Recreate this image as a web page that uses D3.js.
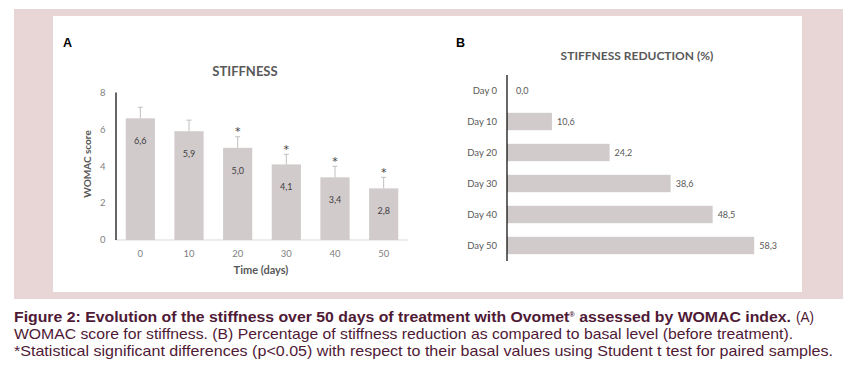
<!DOCTYPE html>
<html><head><meta charset="utf-8">
<script src="https://cdn.jsdelivr.net/npm/d3@7"></script>
<style>
html,body{margin:0;padding:0;background:#fff;}
svg{display:block;}
</style></head>
<body>
<svg id="chart" width="849" height="381"></svg>
<script>
// ---- data ----
const daysA = ["0", "10", "20", "30", "40", "50"];
const womacScores = [6.6, 5.9, 5.0, 4.1, 3.4, 2.8];
const womacErrors = [0.6, 0.6, 0.6, 0.55, 0.6, 0.6];
const significant = [false, false, true, true, true, true];
const yTicksA = [0, 2, 4, 6, 8];
const daysB = ["Day 0", "Day 10", "Day 20", "Day 30", "Day 40", "Day 50"];
const reductionPct = [0.0, 10.6, 24.2, 38.6, 48.5, 58.3];
const captionLines = [
  "WOMAC score for stiffness. (B) Percentage of stiffness reduction as compared to basal level (before treatment).",
  "*Statistical significant differences (p<0.05) with respect to their basal values using Student t test for paired samples."
];

const fmt = v => d3.format(".1f")(v).replace(".", ",");
const svg = d3.select("#chart");
const chartFont = "Lato, 'Open Sans', sans-serif";
const barColor = "#d1cbcc";

// frame
svg.append("rect").attr("x", 14).attr("y", 9).attr("width", 829).attr("height", 290).attr("fill", "#e8d5d5");
svg.append("rect").attr("x", 53).attr("y", 16).attr("width", 749).attr("height", 276).attr("fill", "#ffffff");

// ---- Panel A ----
const gA = svg.append("g");
gA.append("text").attr("x", 63).attr("y", 46.5).text("A")
  .attr("font-family", "'Liberation Sans', Arial, sans-serif").attr("font-weight", "bold").attr("font-size", 12.5).attr("fill", "#000");
gA.append("text").attr("x", 245).attr("y", 76).attr("text-anchor", "middle").text("STIFFNESS")
  .attr("font-family", chartFont).attr("font-weight", "bold").attr("font-size", 13).attr("fill", "#595959");

const xA = d3.scaleBand().domain(daysA).range([116, 408]).paddingInner(0.4).paddingOuter(0.2);
const yA = d3.scaleLinear().domain([0, 8]).range([240, 92.5]);

// y tick labels
gA.selectAll(".ytick").data(yTicksA).join("text")
  .attr("x", 105.5).attr("y", d => yA(d) + 3.3).attr("text-anchor", "end").text(d => d)
  .attr("font-family", chartFont).attr("font-size", 9.5).attr("fill", "#7f7f7f");
// x axis line
gA.append("line").attr("x1", 116).attr("x2", 408).attr("y1", yA(0)).attr("y2", yA(0)).attr("stroke", "#d9d9d9").attr("stroke-width", 1);
// bars
gA.selectAll(".bar").data(womacScores).join("rect")
  .attr("x", (d, i) => xA(daysA[i])).attr("width", xA.bandwidth())
  .attr("y", d => yA(d)).attr("height", d => yA(0) - yA(d)).attr("fill", barColor);
// error bars
womacScores.forEach((v, i) => {
  const cx = xA(daysA[i]) + xA.bandwidth() / 2;
  const top = yA(v + womacErrors[i]);
  gA.append("line").attr("x1", cx).attr("x2", cx).attr("y1", yA(v)).attr("y2", top).attr("stroke", "#bfbfbf").attr("stroke-width", 1);
  gA.append("line").attr("x1", cx - 2.5).attr("x2", cx + 2.5).attr("y1", top).attr("y2", top).attr("stroke", "#bfbfbf").attr("stroke-width", 1);
  if (significant[i]) {
    gA.append("text").attr("x", cx).attr("y", top - 1.5).attr("text-anchor", "middle").text("*")
      .attr("font-family", "'DejaVu Sans', sans-serif").attr("font-size", 11).attr("fill", "#404040");
  }
  gA.append("text").attr("x", cx).attr("y", yA(v) + 26).attr("text-anchor", "middle").text(fmt(v))
    .attr("font-family", chartFont).attr("font-size", 9).attr("fill", "#404040");
});
// y axis line
gA.append("line").attr("x1", 116).attr("x2", 116).attr("y1", yA(8)).attr("y2", yA(0)).attr("stroke", "#000").attr("stroke-width", 1.2);
// x tick labels
gA.selectAll(".xtick").data(daysA).join("text")
  .attr("x", d => xA(d) + xA.bandwidth() / 2).attr("y", 257).attr("text-anchor", "middle").text(d => d)
  .attr("font-family", chartFont).attr("font-size", 9.5).attr("fill", "#7f7f7f");
gA.append("text").attr("x", 261).attr("y", 274).attr("text-anchor", "middle").text("Time (days)")
  .attr("font-family", chartFont).attr("font-weight", "bold").attr("font-size", 11).attr("fill", "#595959");
gA.append("text").attr("transform", "translate(90.5,164) rotate(-90)").attr("text-anchor", "middle").text("WOMAC score")
  .attr("font-family", chartFont).attr("font-weight", "bold").attr("font-size", 10).attr("fill", "#595959");

// ---- Panel B ----
const gB = svg.append("g");
gB.append("text").attr("x", 456).attr("y", 46.5).text("B")
  .attr("font-family", "'Liberation Sans', Arial, sans-serif").attr("font-weight", "bold").attr("font-size", 12.5).attr("fill", "#000");
gB.append("text").attr("x", 637).attr("y", 59.5).attr("text-anchor", "middle").text("STIFFNESS REDUCTION (%)")
  .attr("font-family", chartFont).attr("font-weight", "bold").attr("font-size", 12).attr("fill", "#595959");

const yB = d3.scaleBand().domain(daysB).range([75, 261]).paddingInner(0.44).paddingOuter(0.22);
const xB = d3.scaleLinear().domain([0, 60]).range([507, 761.4]);

gB.selectAll(".bar").data(reductionPct).join("rect")
  .attr("x", xB(0)).attr("y", (d, i) => yB(daysB[i])).attr("height", yB.bandwidth())
  .attr("width", d => xB(d) - xB(0)).attr("fill", barColor);
gB.selectAll(".val").data(reductionPct).join("text")
  .attr("x", d => xB(d) + (d === 0 ? 9 : 5)).attr("y", (d, i) => yB(daysB[i]) + yB.bandwidth() / 2 + 3.2).text(d => fmt(d))
  .attr("font-family", chartFont).attr("font-size", 9).attr("fill", "#595959");
gB.selectAll(".cat").data(daysB).join("text")
  .attr("x", 497).attr("y", d => yB(d) + yB.bandwidth() / 2 + 3.3).attr("text-anchor", "end").text(d => d)
  .attr("font-family", chartFont).attr("font-size", 9.5).attr("fill", "#595959");
gB.append("line").attr("x1", 507).attr("x2", 507).attr("y1", 75).attr("y2", 261).attr("stroke", "#000").attr("stroke-width", 1.2);

// ---- Caption ----
const capFont = "'Liberation Sans', Arial, sans-serif";
const capColor = "#4f1a36";
const t1 = svg.append("text").attr("x", 14).attr("y", 322)
  .attr("font-family", capFont).attr("font-weight", "bold").attr("font-size", 15).attr("fill", capColor)
  .attr("textLength", 777).attr("lengthAdjust", "spacingAndGlyphs");
t1.append("tspan").text("Figure 2: Evolution of the stiffness over 50 days of treatment with Ovomet");
t1.append("tspan").attr("font-size", 7).attr("dy", -5).text("®");
t1.append("tspan").attr("dy", 5).text(" assessed by WOMAC index.");
svg.append("text").attr("x", 796).attr("y", 322).text("(A)")
  .attr("font-family", capFont).attr("font-size", 15).attr("fill", capColor)
  .attr("textLength", 18).attr("lengthAdjust", "spacingAndGlyphs");
const capEnds = [793, 833];
captionLines.forEach((line, i) => {
  svg.append("text").attr("x", 14).attr("y", 339 + i * 17).text(line)
    .attr("font-family", capFont).attr("font-size", 15).attr("fill", capColor)
    .attr("textLength", capEnds[i] - 14).attr("lengthAdjust", "spacingAndGlyphs");
});
</script>
</body></html>
